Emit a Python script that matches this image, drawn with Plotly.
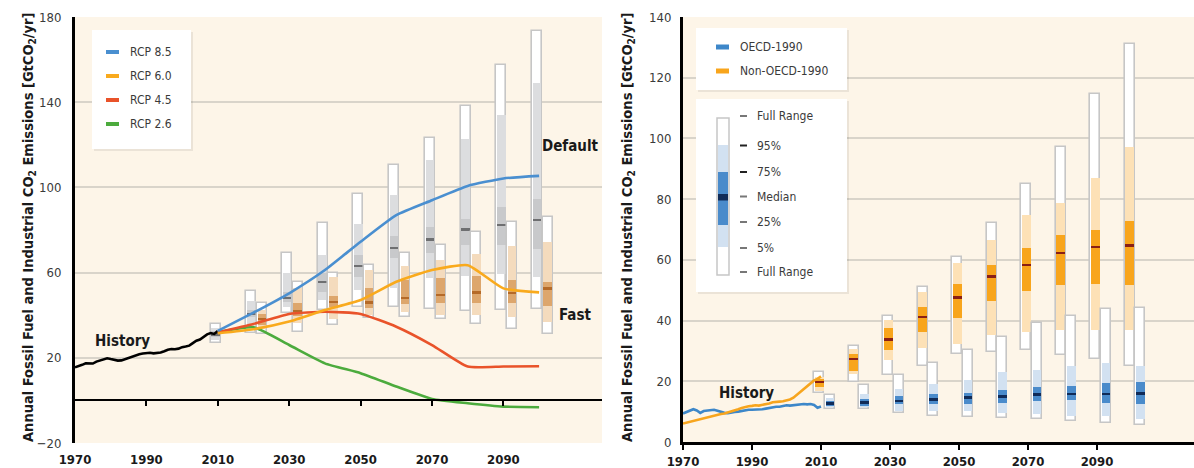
import plotly.graph_objects as go

W, H = 1194, 468
FONT = "DejaVu Sans Condensed, DejaVu Sans, sans-serif"

# ---------------- Left panel data (global) ----------------
hist_years = list(range(1970, 2011))
hist_global = [15.5, 16.0, 16.7, 17.4, 17.3, 17.3, 18.2, 18.7, 19.3, 19.8,
               19.4, 18.9, 18.7, 18.8, 19.4, 20.0, 20.5, 21.0, 21.7, 22.0,
               22.2, 22.4, 22.1, 22.3, 22.5, 23.1, 23.8, 24.1, 24.0, 24.3,
               25.0, 25.3, 25.7, 26.9, 28.0, 28.6, 30.0, 31.0, 31.6, 31.2, 32.6]

rcp_years = [2010, 2020, 2030, 2040, 2050, 2060, 2070, 2080, 2090, 2100]
rcp85 = [32.6, 41.2, 50.3, 61.2, 74.5, 87.0, 94.0, 100.7, 104.2, 105.4]
rcp60 = [31.5, 33.4, 37.0, 42.4, 47.1, 55.7, 61.2, 63.5, 52.6, 50.7]
rcp45 = [32.0, 35.9, 40.6, 41.6, 40.6, 34.6, 26.0, 15.9, 15.9, 16.0]
rcp26 = [32.0, 34.3, 26.0, 17.4, 12.8, 6.5, 0.7, -1.3, -2.9, -3.2]

default_years = [2010, 2020, 2030, 2040, 2050, 2060, 2070, 2080, 2090, 2100]
default_min = [27.1, 31.6, 41.0, 42.4, 44.0, 44.0, 42.8, 42.1, 42.4, 42.8]
default_p5 = [28.5, 34.5, 44.0, 47.1, 51.8, 53.0, 57.3, 58.4, 59.3, 58.0]
default_p25 = [30.0, 39.3, 46.3, 51.0, 58.0, 66.7, 69.0, 72.9, 72.9, 70.9]
default_med = [31.0, 40.5, 48.2, 55.7, 63.1, 71.4, 75.6, 80.3, 82.3, 84.6]
default_p75 = [32.5, 42.4, 51.0, 59.8, 68.2, 77.1, 81.5, 85.4, 90.6, 94.5]
default_p95 = [34.0, 46.5, 59.8, 68.2, 83.0, 96.3, 113.1, 122.9, 134.2, 149.0]
default_max = [35.9, 51.3, 69.3, 83.4, 96.8, 110.4, 123.4, 138.1, 157.3, 173.3]

fast_years = [2020, 2030, 2040, 2050, 2060, 2070, 2080, 2090, 2100]
fast_min = [31.2, 32.3, 35.4, 38.5, 39.3, 38.1, 35.9, 33.4, 31.2]
fast_p5 = [33.5, 36.2, 38.0, 40.1, 41.5, 40.1, 40.1, 39.3, 37.0]
fast_p25 = [35.5, 39.5, 44.0, 43.2, 45.3, 45.6, 45.6, 45.6, 44.3]
fast_med = [38.1, 42.0, 46.3, 45.9, 48.2, 49.5, 50.7, 50.3, 52.6]
fast_p75 = [40.5, 45.6, 49.2, 53.0, 56.5, 57.3, 58.4, 56.5, 55.7]
fast_p95 = [42.4, 52.6, 58.0, 61.2, 63.1, 65.9, 68.7, 72.5, 74.5]
fast_max = [45.9, 55.7, 60.0, 63.5, 69.0, 72.9, 78.9, 83.9, 85.9]

# ---------------- Right panel data (regions) ----------------
oecd_hist = [9.4, 9.8, 10.2, 10.8, 10.4, 9.6, 10.2, 10.4, 10.5, 10.6,
             10.3, 9.9, 9.6, 9.5, 9.8, 9.9, 10.0, 10.2, 10.5, 10.6,
             10.6, 10.6, 10.7, 10.8, 11.0, 11.2, 11.5, 11.6, 11.6, 11.8,
             12.1, 12.0, 12.1, 12.3, 12.5, 12.5, 12.4, 12.5, 12.2, 11.3, 11.7]
nonoecd_hist = [6.1, 6.4, 6.7, 7.0, 7.2, 7.5, 7.8, 8.1, 8.5, 8.8,
                9.0, 9.2, 9.4, 9.7, 10.0, 10.4, 10.8, 11.2, 11.6, 11.8,
                11.9, 12.1, 12.0, 12.2, 12.3, 12.7, 13.1, 13.3, 13.3, 13.4,
                13.7, 14.0, 14.6, 15.6, 16.6, 17.6, 18.6, 19.6, 20.3, 20.8, 21.6]

region_years = [2010, 2020, 2030, 2040, 2050, 2060, 2070, 2080, 2090, 2100]
nonoecd_min = [16.0, 19.7, 22.2, 25.2, 29.1, 29.6, 30.2, 28.8, 27.2, 25.2]
nonoecd_p5 = [16.9, 22.4, 27.1, 31.1, 32.4, 35.1, 36.2, 36.8, 36.8, 36.8]
nonoecd_p25 = [18.0, 23.5, 30.4, 36.2, 40.7, 46.5, 49.7, 51.7, 52.0, 51.7]
nonoecd_med = [19.7, 27.4, 33.7, 41.2, 47.6, 54.5, 58.4, 62.2, 64.2, 64.7]
nonoecd_p75 = [20.8, 29.1, 37.4, 44.5, 52.1, 58.4, 63.9, 68.3, 70.0, 72.7]
nonoecd_p95 = [21.5, 30.7, 40.3, 49.5, 58.9, 66.6, 74.9, 78.6, 86.9, 97.3]
nonoecd_max = [23.0, 31.5, 41.4, 51.2, 61.1, 72.0, 84.9, 97.3, 114.7, 131.0]

oecd_min = [10.8, 10.8, 9.4, 8.6, 8.1, 7.9, 7.5, 7.0, 6.4, 5.6]
oecd_p5 = [11.4, 11.4, 10.3, 10.3, 10.3, 9.4, 9.2, 8.6, 8.6, 7.5]
oecd_p25 = [12.0, 11.9, 12.5, 12.5, 12.5, 12.7, 13.4, 13.8, 13.0, 12.5]
oecd_med = [12.7, 13.0, 13.6, 14.0, 14.7, 15.0, 15.6, 15.8, 15.8, 16.0]
oecd_p75 = [13.5, 14.2, 15.3, 15.8, 16.3, 17.1, 18.0, 18.6, 19.3, 19.7]
oecd_p95 = [14.5, 15.8, 17.5, 19.1, 20.5, 23.0, 23.8, 25.2, 26.0, 25.2]
oecd_max = [15.5, 18.9, 22.2, 26.0, 30.2, 34.6, 39.2, 41.4, 43.8, 44.0]

x_ticks = [1970, 1990, 2010, 2030, 2050, 2070, 2090]
left_yticks = [-20, 20, 60, 100, 140, 180]
right_yticks = [0, 20, 40, 60, 80, 100, 120, 140]

# ---------------- Styles ----------------
OUTLINE = "#c6c6c6"
GRID = "#d9d4ca"
PLOTBG = "#fdf5e8"

fig = go.Figure()


def add_boxes(years, lo, p5, p25, med, p75, p95, hi, offset, width, light, mid,
              medcol, medh, xa, ya):
    xs = [y + offset for y in years]
    inner = width - 0.4
    fig.add_trace(go.Bar(x=xs, base=lo, y=[h - l for h, l in zip(hi, lo)],
                         width=width, marker=dict(color="white",
                         line=dict(color=OUTLINE, width=1.6)),
                         xaxis=xa, yaxis=ya, showlegend=False, hoverinfo="skip"))
    fig.add_trace(go.Bar(x=xs, base=p5, y=[h - l for h, l in zip(p95, p5)],
                         width=inner, marker=dict(color=light, line=dict(width=0)),
                         xaxis=xa, yaxis=ya, showlegend=False, hoverinfo="skip"))
    fig.add_trace(go.Bar(x=xs, base=p25, y=[h - l for h, l in zip(p75, p25)],
                         width=inner, marker=dict(color=mid, line=dict(width=0)),
                         xaxis=xa, yaxis=ya, showlegend=False, hoverinfo="skip"))
    fig.add_trace(go.Bar(x=xs, base=[m - medh / 2 for m in med], y=[medh] * len(med),
                         width=inner, marker=dict(color=medcol, line=dict(width=0)),
                         xaxis=xa, yaxis=ya, showlegend=False, hoverinfo="skip"))


# Left panel boxes
add_boxes(default_years, default_min, default_p5, default_p25, default_med,
          default_p75, default_p95, default_max, -0.6, 2.8,
          "#dcdddf", "#c8c9cb", "#6e6f71", 1.1, "x", "y")
add_boxes(fast_years, fast_min, fast_p5, fast_p25, fast_med,
          fast_p75, fast_p95, fast_max, 2.4, 2.8,
          "#f4dbbd", "#dda66c", "#b56a28", 1.1, "x", "y")

# Right panel boxes
add_boxes(region_years, nonoecd_min, nonoecd_p5, nonoecd_p25, nonoecd_med,
          nonoecd_p75, nonoecd_p95, nonoecd_max, -0.5, 2.9,
          "#fde1b6", "#f8a51c", "#8a1f14", 0.8, "x2", "y2")
add_boxes(region_years, oecd_min, oecd_p5, oecd_p25, oecd_med,
          oecd_p75, oecd_p95, oecd_max, 2.6, 2.9,
          "#d2e1f1", "#4a8bcb", "#102b58", 0.8, "x2", "y2")

# Left panel lines
fig.add_trace(go.Scatter(x=hist_years, y=hist_global, mode="lines",
                         line=dict(color="black", width=2.6), xaxis="x", yaxis="y",
                         showlegend=False, hoverinfo="skip"))
for vals, col in [(rcp26, "#4cab3d"), (rcp45, "#e9532a"), (rcp60, "#f9aa1d"),
                  (rcp85, "#4a8fd0")]:
    fig.add_trace(go.Scatter(x=rcp_years, y=vals, mode="lines",
                             line=dict(color=col, width=2.6, shape="spline",
                                       smoothing=0.5),
                             xaxis="x", yaxis="y", showlegend=False, hoverinfo="skip"))

# Right panel history lines
fig.add_trace(go.Scatter(x=hist_years, y=oecd_hist, mode="lines",
                         line=dict(color="#3d87c9", width=2.6), xaxis="x2", yaxis="y2",
                         showlegend=False, hoverinfo="skip"))
fig.add_trace(go.Scatter(x=hist_years, y=nonoecd_hist, mode="lines",
                         line=dict(color="#f7a51e", width=2.6), xaxis="x2", yaxis="y2",
                         showlegend=False, hoverinfo="skip"))

# invisible trace to anchor the zero-line tick axis
fig.add_trace(go.Scatter(x=[1970], y=[None], mode="lines", xaxis="x3", yaxis="y",
                         showlegend=False, hoverinfo="skip"))

# ---------------- Layout ----------------
def px(v):
    return v / W


def py(v):
    return 1 - v / H


L_DOM = [px(75), px(602)]
R_DOM = [px(683), 1.0]
LY_DOM = [py(443), py(17)]
RY_DOM = [py(442), py(17)]
X_RANGE_L = [1970, 1970 + 527 / 3.57]
X_RANGE_R = [1970, 1970 + 511 / 3.45]
LY_RANGE = [-20, 180]
zero_pos = LY_DOM[0] + (0 - LY_RANGE[0]) / (LY_RANGE[1] - LY_RANGE[0]) * (LY_DOM[1] - LY_DOM[0])

tickfont_x = dict(family=FONT, size=13, color="#1a1a1a", weight="bold")
tickfont_y = dict(family=FONT, size=13, color="#3a3a3a")

fig.update_layout(
    width=W, height=H,
    margin=dict(l=0, r=0, t=0, b=0, autoexpand=False),
    paper_bgcolor="white",
    plot_bgcolor=PLOTBG,
    barmode="overlay",
    bargap=0,
    xaxis=dict(domain=L_DOM, range=X_RANGE_L, tickvals=x_ticks, ticks="",
               showgrid=False, zeroline=False, showline=False, automargin=False,
               tickfont=tickfont_x, anchor="y", ticklabelstandoff=7),
    yaxis=dict(domain=LY_DOM, range=LY_RANGE, tickvals=left_yticks,
               showgrid=True, gridcolor=GRID, gridwidth=1.5, zeroline=False,
               showline=True, linecolor="black", linewidth=3, ticks="",
               automargin=False, tickfont=tickfont_y, anchor="x",
               ticklabelstandoff=8),
    xaxis3=dict(overlaying="x", anchor="free", position=zero_pos,
                range=X_RANGE_L, tickvals=x_ticks[1:], ticks="outside",
                ticklen=5, tickwidth=2, tickcolor="black", automargin=False,
                showticklabels=False, showgrid=False, zeroline=False,
                showline=True, linecolor="black", linewidth=2),
    xaxis2=dict(domain=R_DOM, range=X_RANGE_R, tickvals=x_ticks, ticks="outside",
                ticklen=5, tickwidth=2, tickcolor="black", automargin=False,
                showgrid=False, zeroline=False, showline=True, linecolor="black",
                linewidth=3, tickfont=tickfont_x, anchor="y2", ticklabelstandoff=0),
    yaxis2=dict(domain=RY_DOM, range=[0, 140], tickvals=right_yticks,
                showgrid=True, gridcolor=GRID, gridwidth=1.5, zeroline=False,
                showline=True, linecolor="black", linewidth=3, ticks="",
                automargin=False, tickfont=tickfont_y, anchor="x2",
                ticklabelstandoff=6),
)

shapes = []
annotations = []

TITLE = "Annual Fossil Fuel and Industrial CO<sub>2</sub> Emissions [GtCO<sub>2</sub>/yr]"
for xc in (18, 628):
    annotations.append(dict(xref="paper", yref="paper", x=px(xc), y=py(227),
                            text=TITLE, textangle=-90, showarrow=False,
                            font=dict(family=FONT, size=14.5, color="#1a1a1a",
                                      weight="bold")))

labfont = dict(family=FONT, size=15, color="#1a1a1a", weight="bold")
annotations.append(dict(xref="x", yref="y", x=1983.2, y=27.9, text="History",
                        showarrow=False, font=labfont))
annotations.append(dict(xref="x", yref="y", x=2108.8, y=119.3, text="Default",
                        showarrow=False, font=labfont))
annotations.append(dict(xref="x", yref="y", x=2110.0, y=40.1, text="Fast",
                        showarrow=False, font=labfont))
annotations.append(dict(xref="x2", yref="y2", x=1988.3, y=16.2, text="History",
                        showarrow=False, font=labfont))


def rect(x0, y0, x1, y1, fill, line=None, lw=0):
    shapes.append(dict(type="rect", xref="paper", yref="paper",
                       x0=px(x0), x1=px(x1), y0=py(y1), y1=py(y0),
                       fillcolor=fill, line=dict(color=line or fill, width=lw),
                       layer="above"))


def text(x, y, s, size=12, color="#3a3a3a"):
    annotations.append(dict(xref="paper", yref="paper", x=px(x), y=py(y), text=s,
                            xanchor="left", yanchor="middle", showarrow=False,
                            font=dict(family=FONT, size=size, color=color)))


# Left legend
rect(94, 32, 193, 151, "rgba(0,0,0,0.07)")
rect(92, 30, 191, 149, "white")
for yy, lab, col in [(52, "RCP 8.5", "#4a8fd0"), (76, "RCP 6.0", "#f9aa1d"),
                     (100, "RCP 4.5", "#e9532a"), (124, "RCP 2.6", "#4cab3d")]:
    rect(106, yy - 2, 119, yy + 2, col)
    text(128, yy, lab, 12)

# Right legend 1
rect(698, 30, 849, 92, "rgba(0,0,0,0.07)")
rect(696, 28, 847, 90, "white")
for yy, lab, col in [(47, "OECD-1990", "#3d87c9"), (71, "Non-OECD-1990", "#f8a51c")]:
    rect(716, yy - 2.5, 729, yy + 2.5, col)
    text(738, yy, lab, 12)

# Right legend 2
rect(698, 101, 849, 294, "rgba(0,0,0,0.07)")
rect(696, 99, 847, 292, "white")
rect(717, 118, 729, 275, "white", OUTLINE, 1.5)
rect(718, 145, 728, 172, "#d2e1f1")
rect(718, 172, 728, 225, "#4a8bcb")
rect(718, 194, 728, 200.5, "#102b58")
rect(718, 225, 728, 247, "#d2e1f1")
for yy, lab, dcol in [(116, "Full Range", "#777777"), (145.5, "95%", "#222222"),
                      (172, "75%", "#222222"), (196.5, "Median", "#777777"),
                      (222, "25%", "#777777"), (248, "5%", "#777777"),
                      (272, "Full Range", "#777777")]:
    rect(740, yy - 1, 747, yy + 1, dcol)
    text(755, yy, lab, 12)

fig.update_layout(shapes=shapes, annotations=annotations)

fig.write_html("out.html",
               config={"displayModeBar": False},
               post_script="document.body.style.margin='0px';"
                           "document.body.style.overflow='hidden';")
